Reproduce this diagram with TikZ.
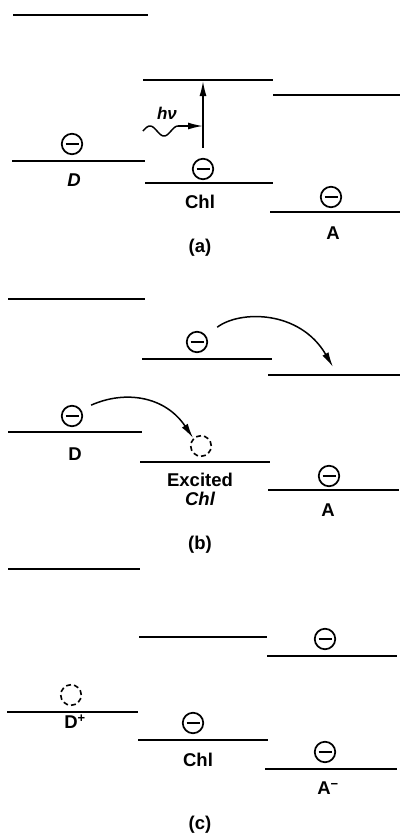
\documentclass[tikz,border=0pt]{standalone}
\usepackage{fontspec}
\setmainfont{Liberation Sans}
\usetikzlibrary{arrows.meta}
\begin{document}
\begin{tikzpicture}[x=1pt,y=-1pt,
  lvl/.style={line width=2.2pt},
  elec/.style={circle,draw,line width=1.7pt,minimum size=20.5pt,inner sep=0pt,
    path picture={\draw[line width=2.2pt] ([xshift=-6.5pt]path picture bounding box.center) -- ([xshift=6.5pt]path picture bounding box.center);}},
  hole/.style={circle,draw,dash pattern=on 5pt off 3pt,line width=1.6pt,minimum size=20.5pt,inner sep=0pt},
  lab/.style={font=\fontsize{18.5}{19}\selectfont\bfseries,inner sep=0pt,align=center},
  arr/.style={line width=1.5pt,-{Latex[length=15pt,width=7pt]}},
]
\useasboundingbox (0,0) rectangle (400,836);

% ---------- panel (a) ----------
\draw[lvl] (13,15) -- (148,15);
\draw[lvl] (143,80) -- (273,80);
\draw[lvl] (273,95) -- (400,95);
\draw[lvl] (12,161) -- (145,161);
\draw[lvl] (145,183) -- (273,183);
\draw[lvl] (270,212) -- (400,212);
\node[elec] (eDa) at (72,144) {};
\node[elec] (eCa) at (203,169) {};
\node[elec] (eAa) at (331,197) {};
\node[lab,font=\fontsize{18.5}{19}\selectfont\bfseries\itshape] (lDa) at (74,180) {D};
\node[lab] (lCa) at (200,202) {Chl};
\node[lab] (lAa) at (333,233) {A};
\node[lab] (pa) at (200,248) {(a)};
\coordinate (upC) at (203,81);
\draw[arr,shorten <=10pt] (eCa.north) -- (upC);
\node[lab,font=\fontsize{17}{19}\selectfont\bfseries\itshape] (hv) at (167,113) {hν};
\coordinate (wv0) at (143,131);
\coordinate (wv1) at (178,126);
\coordinate (hit) at (203,126);
\draw[line width=1.5pt] plot[domain=0:1.25,samples=50] ({143+\x*28},{131-5*sin(\x*360)});
\draw[arr] (wv1) -- (hit);

% ---------- panel (b) ----------
\draw[lvl] (8,299) -- (145,299);
\draw[lvl] (142,359) -- (272,359);
\draw[lvl] (268,375) -- (400,375);
\draw[lvl] (8,432) -- (142,432);
\draw[lvl] (140,462) -- (270,462);
\draw[lvl] (268,490) -- (399,490);
\node[elec] (eCb) at (197,342) {};
\node[elec] (eDb) at (72,416) {};
\node[hole] (hCb) at (201,446) {};
\node[elec] (eAb) at (329,476) {};
\node[lab] (lDb) at (75,454) {D};
\node[lab] (lCb) at (200,489.5) {Excited\\\itshape Chl};
\node[lab] (lAb) at (328,510) {A};
\node[lab] (pb) at (200,545) {(b)};
\draw[arr,shorten <=11pt] (eDb.35) .. controls (125,390) and (165,396) .. (hCb.135);
\coordinate (b2e) at (333,367);
\draw[arr,shorten <=14pt] (eCb.35) .. controls (240,310) and (300,310) .. (b2e);

% ---------- panel (c) ----------
\draw[lvl] (8,569) -- (140,569);
\draw[lvl] (139,637) -- (267,637);
\draw[lvl] (267,656) -- (397,656);
\draw[lvl] (7,712) -- (138,712);
\draw[lvl] (138,740) -- (268,740);
\draw[lvl] (265,769) -- (397,769);
\node[elec] (eAc) at (325,639) {};
\node[hole] (hDc) at (71,695) {};
\node[elec] (eCc) at (193,723) {};
\node[elec] (eAc2) at (325,752) {};
\node[lab] (lDc) at (75,722) {D\textsuperscript{+}};
\node[lab] (lCc) at (198,760) {Chl};
\node[lab] (lAc) at (328,788) {A\textsuperscript{−}};
\node[lab] (pc) at (200,825) {(c)};
\end{tikzpicture}
\end{document}
